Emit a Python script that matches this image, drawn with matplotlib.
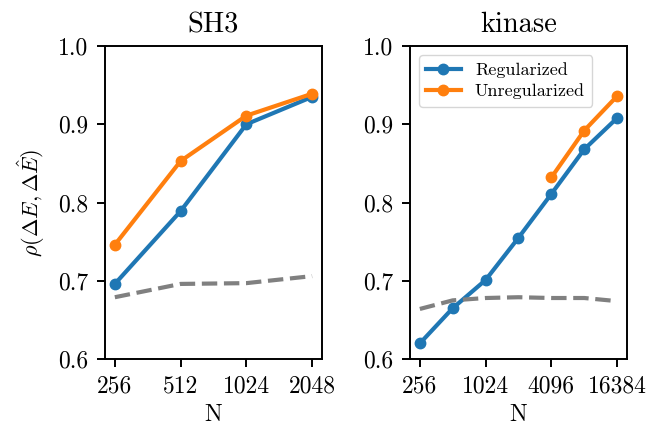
import matplotlib
matplotlib.use("Agg")
import matplotlib.pyplot as plt

plt.rcParams['font.family'] = ['cmr10', 'DejaVu Serif']
plt.rcParams['mathtext.fontset'] = 'cm'
plt.rcParams['axes.formatter.use_mathtext'] = True
plt.rcParams['axes.linewidth'] = 1.4

sh3_N = [256, 512, 1024, 2048]
sh3_reg = [0.696, 0.789, 0.900, 0.935]
sh3_unreg = [0.746, 0.853, 0.911, 0.939]
sh3_base = [0.679, 0.696, 0.697, 0.706]
sh3_ticks = [256, 512, 1024, 2048]

kin_N = [256, 512, 1024, 2048, 4096, 8192, 16384]
kin_reg = [0.620, 0.665, 0.701, 0.755, 0.811, 0.868, 0.908]
kin_unreg_N = [4096, 8192, 16384]
kin_unreg = [0.832, 0.892, 0.936]
kin_base = [0.664, 0.675, 0.678, 0.679, 0.678, 0.678, 0.674]
kin_ticks = [256, 1024, 4096, 16384]

yticks = [0.6, 0.7, 0.8, 0.9, 1.0]

fig, axes = plt.subplots(1, 2, figsize=(6.5, 4.3), dpi=100)
fig.subplots_adjust(left=0.1615, right=0.9646, bottom=0.165, top=0.893, wspace=0.4055)

blue = '#1f77b4'
orange = '#ff7f0e'
lw = 3.0
ms = 7.5

for ax, title, N, reg, uN, unreg, base, ticks in [
    (axes[0], 'SH3', sh3_N, sh3_reg, sh3_N, sh3_unreg, sh3_base, sh3_ticks),
    (axes[1], 'kinase', kin_N, kin_reg, kin_unreg_N, kin_unreg, kin_base, kin_ticks),
]:
    ax.plot(N, reg, '-o', color=blue, lw=lw, ms=ms, label='Regularized')
    ax.plot(uN, unreg, '-o', color=orange, lw=lw, ms=ms, label='Unregularized')
    ax.plot(N, base, '--', color='grey', lw=3.0)
    ax.set_xscale('log', base=2)
    ax.set_xticks(ticks)
    ax.set_xticklabels([str(t) for t in ticks])
    ax.minorticks_off()
    ax.set_ylim(0.6, 1.0)
    ax.set_yticks(yticks)
    ax.set_yticklabels([f'{v:.1f}' for v in yticks])
    ax.tick_params(labelsize=17, length=6, width=1.4, pad=6)
    ax.set_xlabel('N', fontsize=17, labelpad=4)
    ax.set_title(title, fontsize=20.5, pad=10)

axes[0].set_ylabel(r'$\rho(\Delta E, \Delta \hat{E})$', fontsize=16, labelpad=8)
axes[1].legend(loc='upper left', fontsize=13, handlelength=1.9, labelspacing=0.3)

fig.savefig('out.png', dpi=100)
